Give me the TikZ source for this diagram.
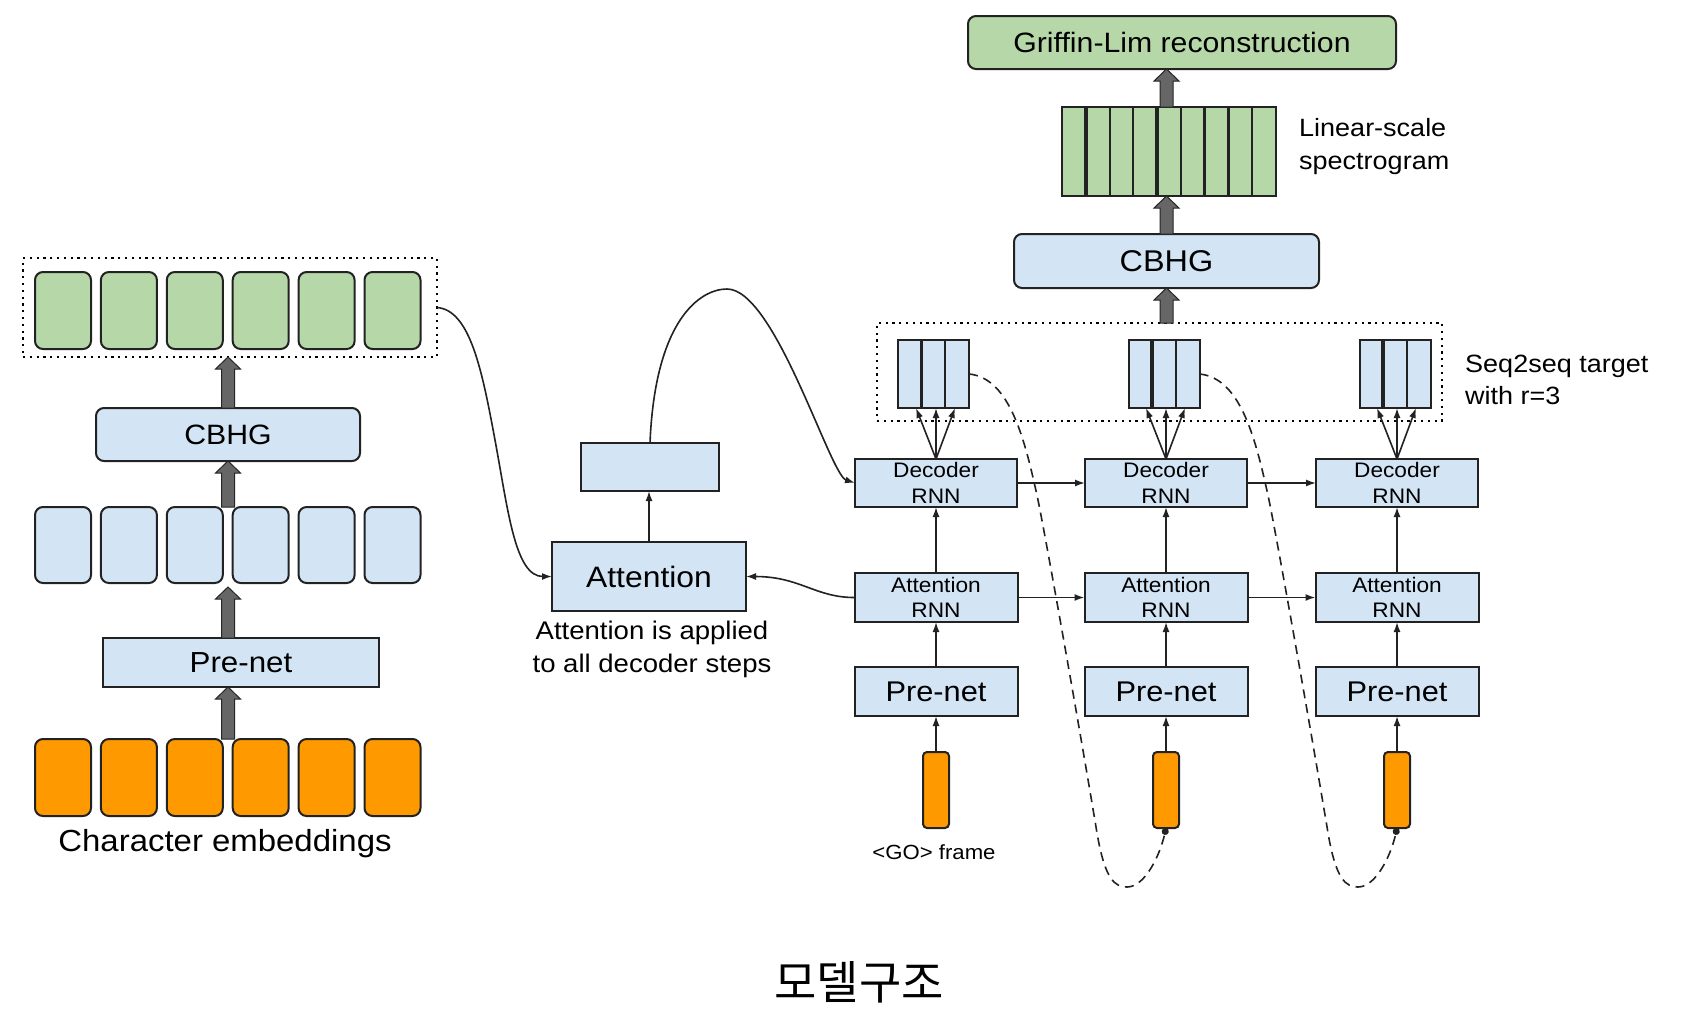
\documentclass[tikz,border=0pt]{standalone}
\usepackage{fontspec}
\setmainfont{Liberation Sans}[FakeStretch=1.08]
\newfontfamily\krfont{Noto Sans CJK KR}
\usetikzlibrary{arrows.meta,calc}
\definecolor{boxgreen}{HTML}{B6D7A8}
\definecolor{boxblue}{HTML}{D3E5F5}
\definecolor{boxorange}{HTML}{FF9900}
\definecolor{edge}{HTML}{222222}
\definecolor{fatfill}{HTML}{666666}
\newcommand\fsz[2]{\fontsize{#1}{#2}\selectfont}
\begin{document}
\begin{tikzpicture}[x=1pt,y=-1pt,
  bx/.style={draw=edge, line width=2pt, inner sep=0pt, outer sep=0pt, align=center, text=black},
  bluebox/.style={bx, fill=boxblue},
  greenbox/.style={bx, fill=boxgreen},
  orangebox/.style={bx, fill=boxorange},
  cell/.style={minimum width=56pt, minimum height=77pt, rounded corners=8pt},
  dotbox/.style={draw=black, line width=2.2pt, dash pattern=on 2.2pt off 4.6pt, inner sep=0pt, outer sep=0pt},
  arr/.style={draw=edge, line width=1.6pt, -{Latex[length=10pt,width=7pt]}},
  dasharr/.style={draw=edge, line width=1.6pt, dash pattern=on 9pt off 6pt, -{Circle[length=7pt]}},
  fatarr/.style={draw=black!85, fill=fatfill, line width=1pt,
    to path={let \p1=(\tikztostart), \p2=(\tikztotarget) in
      (\x1-6.5pt,\y1) -- (\x1-6.5pt,\y2-12pt) -- (\x1-12.5pt,\y2-12pt) -- (\x1,\y2)
      -- (\x1+12.5pt,\y2-12pt) -- (\x1+6.5pt,\y2-12pt) -- (\x1+6.5pt,\y1) -- cycle}},
  plain/.style={inner sep=0pt, text=black}
]
\fill[white] (0,0) rectangle (1681,1021);
\useasboundingbox (0,0) rectangle (1681,1021);

% ---------------- encoder (left) ----------------
\node[dotbox, minimum width=414pt, minimum height=99pt] (enc) at (230,307.5) {};
\foreach \i in {1,...,6} {
  \pgfmathsetmacro\cx{63+65.9*(\i-1)}
  \node[greenbox, cell] (g\i) at (\cx,310.5) {};
  \node[bluebox, cell, minimum height=76pt] (e\i) at (\cx,545) {};
  \node[orangebox, cell] (c\i) at (\cx,777.5) {};
}
\node[bluebox, rounded corners=8pt, minimum width=264pt, minimum height=53pt, font=\fsz{28}{32}] (cbhgL) at (228,434.5) {CBHG};
\node[bluebox, minimum width=276pt, minimum height=49pt, font=\fsz{29}{34}] (preL) at (241,662.5) {Pre-net};
\node[plain, font=\fsz{30.5}{36}] (chl) at (225,844) {Character embeddings};

\draw[fatarr] (cbhgL.south |- c1.north) to (cbhgL.south |- preL.south);
\draw[fatarr] (cbhgL.south |- preL.north) to ($(cbhgL.south |- e1.south)+(0,4)$);
\draw[fatarr] (cbhgL.south |- e1.north) to (cbhgL.south);
\draw[fatarr] (cbhgL.north) to (cbhgL.north |- enc.south);

% ---------------- top right ----------------
\node[greenbox, rounded corners=8pt, minimum width=428pt, minimum height=53pt, font=\fsz{28}{34}] (griffin) at (1182,42.5) {Griffin-Lim reconstruction};
\node[greenbox, minimum width=214pt, minimum height=89pt] (spec) at (1169,151.5) {};
\foreach \k/\w in {1/3.5pt,2/2pt,3/2pt,4/3.5pt,5/2pt,6/3.5pt,7/3.5pt,8/2pt}
  \draw[draw=edge, line width=\w] ($(spec.north west)+(\k*23.78,0)$) -- ($(spec.south west)+(\k*23.78,0)$);
\node[plain, anchor=west, align=left, font=\fsz{25}{33}] (lin) at (1299,147) {Linear-scale\\spectrogram};
\node[bluebox, rounded corners=8pt, minimum width=305pt, minimum height=54pt, font=\fsz{30}{36}] (cbhgR) at (1166.5,261) {CBHG};
\node[dotbox, minimum width=565pt, minimum height=98pt] (dec) at (1159.5,372) {};
\node[plain, anchor=west, align=left, font=\fsz{25}{32}] (seq) at (1465,380) {Seq2seq target\\with r=3};

\draw[fatarr] (cbhgR.north |- dec.north) to (cbhgR.south);
\draw[fatarr] (cbhgR.north) to (cbhgR.north |- spec.south);
\draw[fatarr] (cbhgR.north |- spec.north) to (cbhgR.north |- griffin.south);

% ---------------- decoder columns ----------------
\foreach \i/\cx in {1/933.5,2/1164,3/1395} {
  \node[bluebox, minimum width=71pt, minimum height=68pt] (f\i) at (\cx,374) {};
  \draw[draw=edge, line width=3.5pt] ($(f\i.north west)+(23.7,0)$) -- ($(f\i.south west)+(23.7,0)$);
  \draw[draw=edge, line width=2pt] ($(f\i.north west)+(47.3,0)$) -- ($(f\i.south west)+(47.3,0)$);
}
\foreach \i/\cx in {1/936,2/1166,3/1397} {
  \node[bluebox, minimum width=162pt, minimum height=48pt, font=\fsz{21}{26}] (d\i) at (\cx,483) {Decoder\\RNN};
  \node[bluebox, minimum width=163pt, minimum height=49pt, font=\fsz{21}{25}] (a\i) at (\cx,597.5) {Attention\\RNN};
  \node[bluebox, minimum width=163pt, minimum height=49pt, font=\fsz{28.5}{34}] (p\i) at (\cx,691.5) {Pre-net};
  \node[orangebox, rounded corners=4pt, minimum width=26pt, minimum height=76pt] (o\i) at (\cx,790) {};
  \draw[arr] (o\i.north) -- (p\i.south);
  \draw[arr] (p\i.north) -- (a\i.south);
  \draw[arr] (a\i.north) -- (d\i.south);
  \draw[arr] (d\i.north) -- ($(d\i.north |- f\i.south)+(-20,0)$);
  \draw[arr] (d\i.north) -- (d\i.north |- f\i.south);
  \draw[arr] (d\i.north) -- ($(d\i.north |- f\i.south)+(19,0)$);
}
\node[plain, font=\fsz{20.5}{24}] (go) at (934,852) {<GO> frame};

\draw[arr] (d1.east) -- (d2.west);
\draw[arr] (d2.east) -- (d3.west);
\draw[arr] (a1.east) -- (a2.west);
\draw[arr] (a2.east) -- (a3.west);

% ---------------- attention ----------------
\node[bluebox, minimum width=194pt, minimum height=69pt, font=\fsz{29.5}{34}] (att) at (649,576.5) {Attention};
\node[bluebox, minimum width=138pt, minimum height=48pt] (sb) at (650,467) {};
\draw[arr] (att.north) -- (att.north |- sb.south);
\node[plain, align=center, font=\fsz{25.5}{33}] (cap) at (652,649) {Attention is applied\\to all decoder steps};

\draw[arr] (enc.east) .. controls (470,310) and (482,370) .. (495,440)
  .. controls (508,510) and (515,576.5) .. (att.west);
\draw[arr] (sb.north) .. controls (655,320) and (700,289) .. (727,289)
  .. controls (775,289) and (830,475) .. (d1.west);
\draw[arr] (a1.west) .. controls (815,597.5) and (800,576.5) .. (att.east);

% ---------------- dashed feedback ----------------
\draw[dasharr] (f1.east) .. controls (1010,378) and (1025,440) .. (1038,500)
  .. controls (1050,560) and (1085,760) .. (1097,833)
  .. controls (1105,880) and (1115,887) .. (1127,887)
  .. controls (1145,887) and (1160,855) .. (o2.south);
\draw[dasharr] (f2.east) .. controls (1241,378) and (1256,440) .. (1269,500)
  .. controls (1281,560) and (1316,760) .. (1328,833)
  .. controls (1336,880) and (1346,887) .. (1358,887)
  .. controls (1376,887) and (1391,855) .. (o3.south);

% ---------------- caption ----------------
\node[plain, font={\krfont\fsz{46}{52}}] (title) at (859,982) {모델구조};
\end{tikzpicture}
\end{document}
